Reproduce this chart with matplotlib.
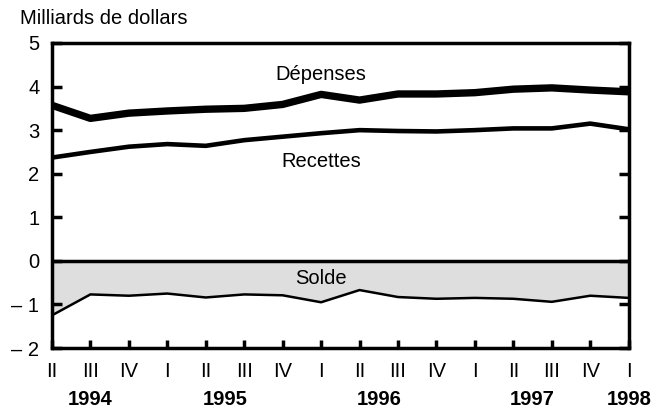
import numpy as np
import matplotlib
matplotlib.use("Agg")
import matplotlib.pyplot as plt
import matplotlib.transforms as mtransforms

plt.rcParams['font.family'] = ['Liberation Sans', 'DejaVu Sans']

# Quarterly data, 1994 Q2 to 1998 Q1 (billions of dollars)
quarters = ['II', 'III', 'IV', 'I', 'II', 'III', 'IV', 'I',
            'II', 'III', 'IV', 'I', 'II', 'III', 'IV', 'I']
years = ['1994', '1995', '1996', '1997', '1998']
year_quarters = [[0, 1, 2], [3, 4, 5, 6], [7, 8, 9, 10], [11, 12, 13, 14], [15]]

depenses = [3.57, 3.27, 3.39, 3.44, 3.48, 3.50, 3.59, 3.82,
            3.69, 3.83, 3.83, 3.86, 3.94, 3.97, 3.92, 3.88]
recettes = [2.37, 2.50, 2.62, 2.68, 2.64, 2.77, 2.85, 2.93,
            3.00, 2.98, 2.97, 3.00, 3.04, 3.04, 3.15, 3.02]
solde = [-1.25, -0.77, -0.80, -0.75, -0.84, -0.77, -0.79, -0.95,
         -0.67, -0.83, -0.87, -0.85, -0.87, -0.94, -0.80, -0.85]

y_ticks = [-2, -1, 0, 1, 2, 3, 4, 5]
y_labels = ['– 2', '– 1', '0', '1', '2', '3', '4', '5']

x = np.arange(len(quarters))
fs = 14.5

fig = plt.figure(figsize=(6.66, 4.15), dpi=100)
ax = fig.add_axes([0.078, 0.1614, 0.866, 0.735])

ax.fill_between(x, 0, solde, color='#dedede', linewidth=0)
ax.axhline(0, color='black', linewidth=2.5)
ax.plot(x, solde, color='black', linewidth=1.8)
ax.plot(x, recettes, color='black', linewidth=3.3)
ax.plot(x, depenses, color='black', linewidth=5.3)

ax.set_xlim(0, 15)
ax.set_ylim(-2, 5)

for s in ax.spines.values():
    s.set_linewidth(2.5)

ax.set_yticks(y_ticks)
ax.set_yticklabels(y_labels, fontsize=fs)
ax.tick_params(axis='y', direction='in', length=7, width=2.5, pad=9,
               left=True, right=True)

ax.set_xticks(x)
ax.set_xticklabels(quarters, fontsize=fs)
ax.tick_params(axis='x', which='major', direction='in', length=6, width=2.5, pad=10)
year_starts = [i for i, q in enumerate(quarters) if q == 'I']
ax.set_xticks(year_starts, minor=True)
ax.tick_params(axis='x', which='minor', direction='in', length=14, width=2.5)

trans = mtransforms.blended_transform_factory(ax.transData, ax.transAxes)
for yr, idx in zip(years, year_quarters):
    ax.text(np.mean(idx), -0.17, yr, transform=trans, ha='center', va='center',
            fontsize=fs, fontweight='bold')

ax.text(7, 4.27, 'Dépenses', ha='center', va='center', fontsize=fs)
ax.text(7, 2.28, 'Recettes', ha='center', va='center', fontsize=fs)
ax.text(7, -0.41, 'Solde', ha='center', va='center', fontsize=fs)

fig.text(0.03, 0.978, 'Milliards de dollars', ha='left', va='top', fontsize=fs)

fig.savefig('out.png', dpi=100)
